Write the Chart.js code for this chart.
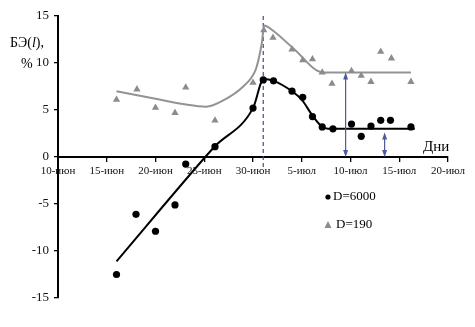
<!DOCTYPE html>
<html>
<head>
<meta charset="utf-8">
<script src="https://cdn.jsdelivr.net/npm/chart.js@4.4.0/dist/chart.umd.min.js"></script>
<style>
  html, body { margin: 0; padding: 0; background: #fff; }
  #wrap { width: 475px; height: 327px; }
</style>
</head>
<body>
<div id="wrap"><canvas id="grafico"></canvas></div>
<script>
// days counted from 10-июн (day 0)
const xTickLabels = ["10-июн", "15-июн", "20-июн", "25-июн", "30-июн", "5-июл", "10-июл", "15-июл", "20-июл"];

// D=6000 (black circles)
const daysD6000 = [6, 8, 10, 12, 13.1, 16.1, 20, 21.05, 22.1, 24, 25.1, 26.1, 27.1, 28.2, 30.1, 31.1, 32.1, 33.1, 34.1, 36.2];
const valsD6000 = [-12.5, -6.1, -7.9, -5.1, -0.75, 1.1, 5.2, 8.2, 8.1, 7.0, 6.35, 4.3, 3.2, 3.0, 3.5, 2.2, 3.3, 3.9, 3.9, 3.2];

// D=190 (grey triangles)
const daysD190 = [6, 8.1, 10, 12, 13.1, 16.1, 20, 21.1, 22.05, 24, 25.1, 26.1, 27.1, 28.1, 30.1, 31.1, 32.1, 33.1, 34.2, 36.2];
const valsD190 = [6.1, 7.2, 5.25, 4.7, 7.4, 3.9, 7.9, 13.5, 12.7, 11.45, 10.3, 10.4, 9.0, 7.8, 9.15, 8.65, 8.0, 11.2, 10.5, 8.0];

// fitted curves
const fitDays6000 = [6, 15.1, 16.1, 20, 21.1, 22.1, 24, 25, 26.1, 27, 27.7, 36.6];
const fitVals6000 = [-11.1, 0, 1.15, 5.2, 8.3, 8.1, 7.0, 6.1, 4.4, 3.3, 3.0, 3.0];
const fitDays190 = [6, 10, 13, 15.2, 17, 19, 20.2, 20.55, 20.9, 21.15, 22.1, 24.1, 27.2, 36.2];
const fitVals190 = [7.0, 6.2, 5.6, 5.35, 6.05, 7.5, 9.1, 10.3, 12.1, 14.0, 13.4, 11.6, 9.0, 9.0];

// vertical dashed marker and double arrows
const markerDay = 21.05;
const markerRange = [15, -1.2];
const arrowDays = [29.5, 33.5];
const arrowTops = [9, 2.6];
const arrowBottoms = [0, 0];

const serif = "'Liberation Serif', 'DejaVu Serif', serif";

function toXY(xs, ys) {
  return xs.map((x, i) => ({ x: x, y: ys[i] }));
}

// подписи, легенда и стрелки
const extras = {
  id: "extras",
  afterDatasetsDraw(chart) {
    const ctx = chart.ctx;
    const sx = chart.scales.x, sy = chart.scales.y;
    ctx.save();

    // стрелки
    ctx.strokeStyle = "#4b5a9c";
    ctx.fillStyle = "#4b5a9c";
    ctx.lineWidth = 1.2;
    arrowDays.forEach((d, i) => {
      const x = sx.getPixelForValue(d);
      const y1 = sy.getPixelForValue(arrowTops[i]);
      const y2 = sy.getPixelForValue(arrowBottoms[i]);
      ctx.beginPath();
      ctx.moveTo(x, y1 + 2);
      ctx.lineTo(x, y2 - 2);
      ctx.stroke();
      ctx.beginPath();
      ctx.moveTo(x, y1);
      ctx.lineTo(x - 2.5, y1 + 7);
      ctx.lineTo(x + 2.5, y1 + 7);
      ctx.closePath();
      ctx.fill();
      ctx.beginPath();
      ctx.moveTo(x, y2);
      ctx.lineTo(x - 2.5, y2 - 7);
      ctx.lineTo(x + 2.5, y2 - 7);
      ctx.closePath();
      ctx.fill();
    });

    // заголовок оси Y
    ctx.fillStyle = "#000";
    ctx.textBaseline = "middle";
    ctx.textAlign = "left";
    ctx.font = "14px " + serif;
    let tx = 10;
    ctx.fillText("БЭ(", tx, 43);
    tx += ctx.measureText("БЭ(").width;
    ctx.font = "italic 14px " + serif;
    ctx.fillText("l", tx, 43);
    tx += ctx.measureText("l").width;
    ctx.font = "14px " + serif;
    ctx.fillText("),", tx, 43);
    ctx.fillText("%", 21, 64);

    // заголовок оси X
    ctx.font = "15px " + serif;
    ctx.fillText("Дни", 423, 147);

    // легенда
    const ds = chart.data.datasets;
    ctx.font = "13px " + serif;
    ctx.fillStyle = "#000";
    ctx.beginPath();
    ctx.arc(328, 197, 2.6, 0, Math.PI * 2);
    ctx.fill();
    ctx.fillText(ds[0].label, 333, 197);
    ctx.fillStyle = "#8c8c8c";
    ctx.beginPath();
    ctx.moveTo(328, 221);
    ctx.lineTo(324.5, 228);
    ctx.lineTo(331.5, 228);
    ctx.closePath();
    ctx.fill();
    ctx.fillStyle = "#000";
    ctx.fillText(ds[1].label, 336, 225);

    ctx.restore();
  }
};

function exibirGrafico() {
  const ctx = document.getElementById("grafico").getContext("2d");
  new Chart(ctx, {
    type: "scatter",
    data: {
      datasets: [
        {
          label: "D=6000",
          data: toXY(daysD6000, valsD6000),
          pointStyle: "circle",
          pointRadius: 3.6,
          backgroundColor: "#000",
          borderColor: "#000",
          borderWidth: 0,
        },
        {
          label: "D=190",
          data: toXY(daysD190, valsD190),
          pointStyle: "triangle",
          pointRadius: 4.2,
          backgroundColor: "#8c8c8c",
          borderColor: "#8c8c8c",
          borderWidth: 0,
        },
        {
          label: "fit6000",
          data: toXY(fitDays6000, fitVals6000),
          showLine: true,
          pointRadius: 0,
          borderColor: "#000",
          borderWidth: 2,
          cubicInterpolationMode: "monotone",
        },
        {
          label: "fit190",
          data: toXY(fitDays190, fitVals190),
          showLine: true,
          pointRadius: 0,
          borderColor: "#939393",
          borderWidth: 2,
          cubicInterpolationMode: "monotone",
        },
        {
          label: "marker",
          data: toXY([markerDay, markerDay], markerRange),
          showLine: true,
          pointRadius: 0,
          borderColor: "#3d4a8a",
          borderWidth: 1.2,
          borderDash: [4, 3],
        },
      ],
    },
    options: {
      responsive: true,
      maintainAspectRatio: false,
      animation: false,
      layout: { padding: { left: 0, right: 27, top: 16, bottom: 29 } },
      plugins: {
        legend: { display: false },
        tooltip: { enabled: false },
      },
      scales: {
        x: {
          type: "linear",
          min: 0,
          max: 40,
          position: { y: 0 },
          afterFit: (scale) => { scale.height = 0; },
          border: { color: "#000", width: 2 },
          grid: { drawOnChartArea: false, drawTicks: true, tickLength: 4, color: "#000", lineWidth: 1.3 },
          ticks: {
            stepSize: 5,
            autoSkip: false,
            maxRotation: 0,
            padding: 4,
            color: "#111",
            font: { family: serif, size: 11 },
            callback: (v) => xTickLabels[Math.round(v / 5)],
          },
        },
        y: {
          min: -15,
          max: 15,
          afterFit: (scale) => { scale.width = 58; },
          border: { color: "#000", width: 2 },
          grid: { drawOnChartArea: false, drawTicks: true, tickLength: 4, color: "#000", lineWidth: 1.3 },
          ticks: {
            stepSize: 5,
            padding: 5,
            color: "#111",
            font: { family: serif, size: 13 },
          },
        },
      },
    },
    plugins: [extras],
  });
}

exibirGrafico();
</script>
</body>
</html>
